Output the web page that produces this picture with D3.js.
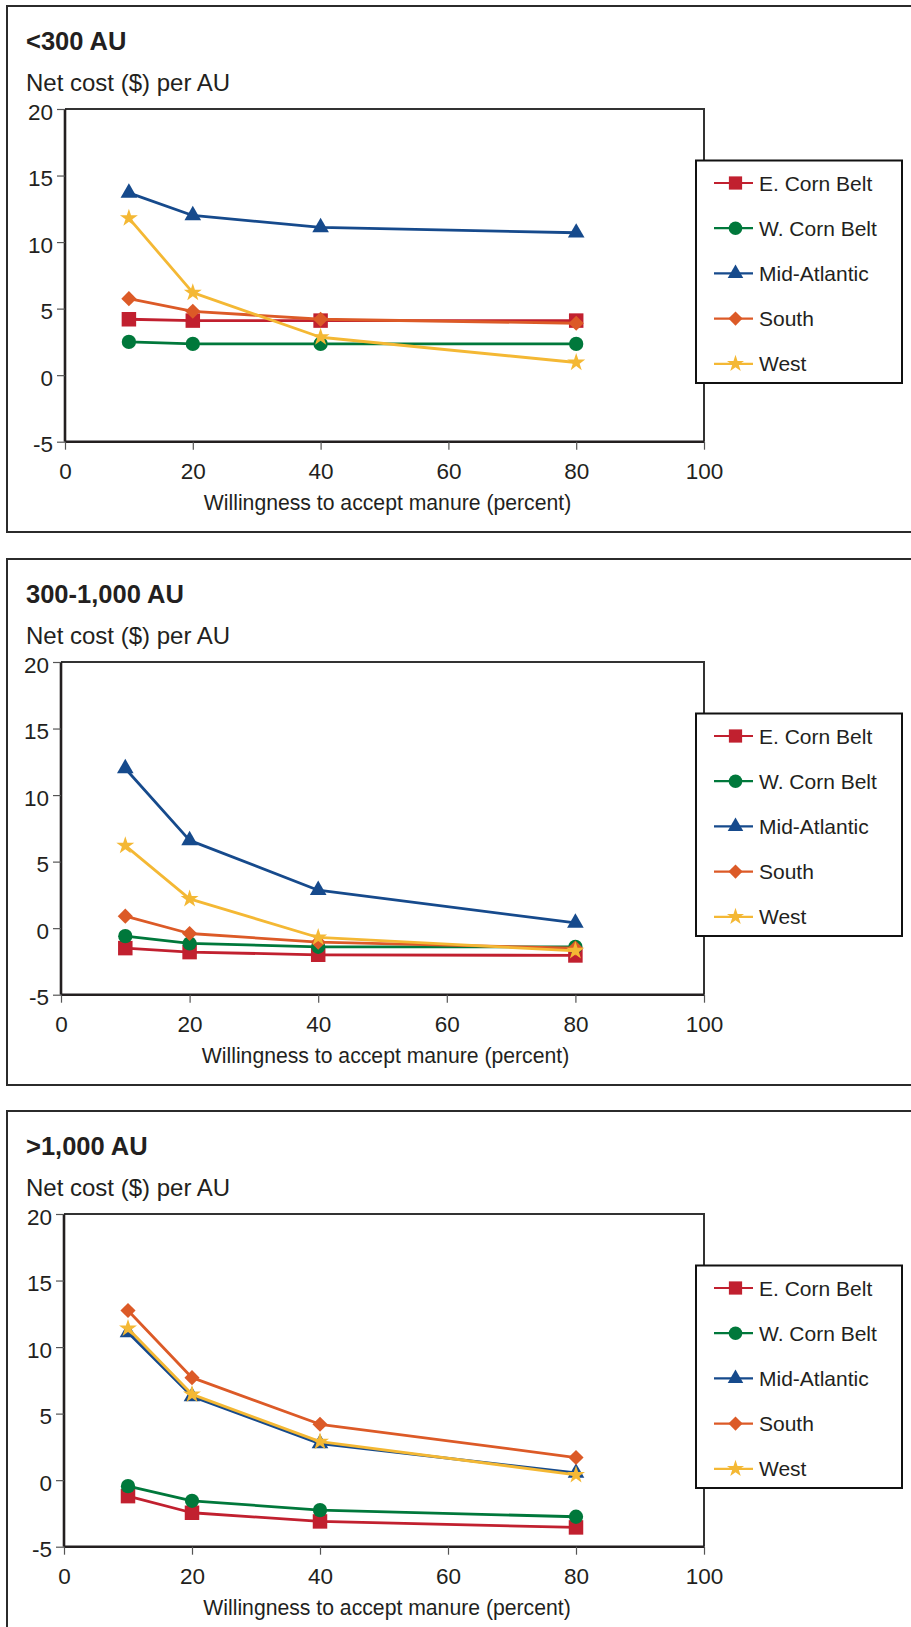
<!DOCTYPE html>
<html><head><meta charset="utf-8">
<script src="https://cdn.jsdelivr.net/npm/d3@7"></script>
<style>
html,body{margin:0;padding:0;background:#fff;}
svg{display:block;}
text{font-family:"Liberation Sans",Arial,Helvetica,sans-serif;fill:#231f20;}
</style></head>
<body>
<script>
// ---- data ----
const xValues = [10, 20, 40, 80];
const seriesNames = ["E. Corn Belt", "W. Corn Belt", "Mid-Atlantic", "South", "West"];
const seriesColors = ["#c1202f", "#00783b", "#164a8c", "#dc5a27", "#f4b834"];
const panelTitles = ["<300 AU", "300-1,000 AU", ">1,000 AU"];
const yTicks = [-5, 0, 5, 10, 15, 20];
const xTicks = [0, 20, 40, 60, 80, 100];
const yLabel = "Net cost ($) per AU";
const xLabel = "Willingness to accept manure (percent)";

// <300 AU
const eCornBelt1 = [4.2, 4.1, 4.1, 4.1];
const wCornBelt1 = [2.5, 2.35, 2.35, 2.35];
const midAtlantic1 = [13.7, 12.0, 11.1, 10.7];
const south1 = [5.75, 4.8, 4.2, 3.9];
const west1 = [11.8, 6.2, 2.85, 0.95];
// 300-1,000 AU
const eCornBelt2 = [-1.5, -1.8, -2.0, -2.05];
const wCornBelt2 = [-0.6, -1.15, -1.4, -1.4];
const midAtlantic2 = [12.0, 6.6, 2.85, 0.4];
const south2 = [0.9, -0.4, -1.05, -1.5];
const west2 = [6.2, 2.2, -0.7, -1.7];
// >1,000 AU
const eCornBelt3 = [-1.2, -2.45, -3.1, -3.55];
const wCornBelt3 = [-0.45, -1.55, -2.25, -2.75];
const midAtlantic3 = [11.1, 6.3, 2.75, 0.55];
const south3 = [12.75, 7.7, 4.2, 1.7];
const west3 = [11.4, 6.45, 2.9, 0.4];

const panelData = [
  [eCornBelt1, wCornBelt1, midAtlantic1, south1, west1],
  [eCornBelt2, wCornBelt2, midAtlantic2, south2, west2],
  [eCornBelt3, wCornBelt3, midAtlantic3, south3, west3]
];

// ---- layout ----
const W = 911, H = 1627;
const frameTops = [6, 559, 1111];
const plotLefts = [65, 61, 64];
const plotRight = 704;
const frameLeft = 7, frameH = 526;

const diamond = {
  draw(ctx, size) {
    const r = Math.sqrt(size * 2) / 2;
    ctx.moveTo(0, -r); ctx.lineTo(r, 0); ctx.lineTo(0, r); ctx.lineTo(-r, 0); ctx.closePath();
  }
};
const symbolTypes = [d3.symbolSquare, d3.symbolCircle, d3.symbolTriangle, diamond, d3.symbolStar];
const symbolSizes = [210, 160, 120, 115, 100];
const legendSizes = [175, 145, 105, 100, 90];

const svg = d3.select("body").append("svg").attr("width", W).attr("height", H);

panelData.forEach((series, p) => {
  const ft = frameTops[p];
  const g = svg.append("g");
  // outer frame
  g.append("rect").attr("x", frameLeft).attr("y", ft).attr("width", 960).attr("height", frameH)
    .attr("fill", "none").attr("stroke", "#2b2b2b").attr("stroke-width", 2);

  g.append("text").attr("x", 26).attr("y", ft + 44).attr("font-size", 25.5).attr("font-weight", "bold")
    .text(panelTitles[p]);
  g.append("text").attr("x", 26).attr("y", ft + 84.7).attr("font-size", 24).text(yLabel);

  const top = ft + 103, bottom = top + 332.7;
  const left = plotLefts[p];
  const x = d3.scaleLinear().domain([0, 100]).range([left, plotRight]);
  const y = d3.scaleLinear().domain([-5, 20]).range([bottom, top]);

  // plot frame top/right
  g.append("path").attr("d", `M${left},${top}H${plotRight}V${bottom}`)
    .attr("fill", "none").attr("stroke", "#333").attr("stroke-width", 2);

  // axes
  const fmt = d => String(d);
  const yAxis = d3.axisLeft(y).tickValues(yTicks).tickSize(8).tickPadding(4).tickFormat(fmt);
  const xAxis = d3.axisBottom(x).tickValues(xTicks).tickSize(8).tickPadding(13).tickFormat(fmt);
  const ya = g.append("g").attr("transform", `translate(${left},0)`).call(yAxis);
  const xa = g.append("g").attr("transform", `translate(0,${bottom})`).call(xAxis);
  [ya, xa].forEach(a => {
    a.select(".domain").attr("stroke", "#231f20").attr("stroke-width", 2.6);
    a.selectAll(".tick line").attr("stroke", "#555").attr("stroke-width", 1.2);
    a.selectAll(".tick text").attr("font-size", 22.5).attr("fill", "#231f20")
      .attr("font-family", "Liberation Sans, Arial, sans-serif");
  });
  ya.selectAll(".tick text").attr("dy", "0.45em");
  ya.select(".domain").attr("d", `M0,${top}V${bottom}`);
  xa.select(".domain").attr("d", `M${left},0H${plotRight}`);

  g.append("text").attr("x", (left + plotRight) / 2 + 3).attr("y", bottom + 68)
    .attr("text-anchor", "middle").attr("font-size", 21.2).text(xLabel);

  // series
  const line = d3.line().x((d, i) => x(xValues[i])).y(d => y(d));
  series.forEach((vals, s) => {
    const sg = g.append("g");
    sg.append("path").attr("d", line(vals)).attr("fill", "none")
      .attr("stroke", seriesColors[s]).attr("stroke-width", 2.8).attr("stroke-linejoin", "round");
    sg.selectAll("path.m").data(vals).enter().append("path").attr("class", "m")
      .attr("transform", (d, i) => `translate(${x(xValues[i])},${y(d)})`)
      .attr("d", d3.symbol().type(symbolTypes[s]).size(symbolSizes[s]))
      .attr("fill", seriesColors[s]);
  });

  // legend
  const lx = 696, ly = top + 51.5;
  const lg = g.append("g").attr("transform", `translate(${lx},${ly})`);
  lg.append("rect").attr("width", 206).attr("height", 222.5).attr("fill", "#fff")
    .attr("stroke", "#111").attr("stroke-width", 2);
  seriesNames.forEach((name, s) => {
    const ey = 22.5 + s * 45.2;
    lg.append("line").attr("x1", 18).attr("x2", 57).attr("y1", ey).attr("y2", ey)
      .attr("stroke", seriesColors[s]).attr("stroke-width", 2.2);
    lg.append("path").attr("transform", `translate(39.5,${ey})`)
      .attr("d", d3.symbol().type(symbolTypes[s]).size(legendSizes[s])).attr("fill", seriesColors[s]);
    lg.append("text").attr("x", 63).attr("y", ey).attr("dy", "0.36em").attr("font-size", 21).text(name);
  });
});
</script>
</body></html>
